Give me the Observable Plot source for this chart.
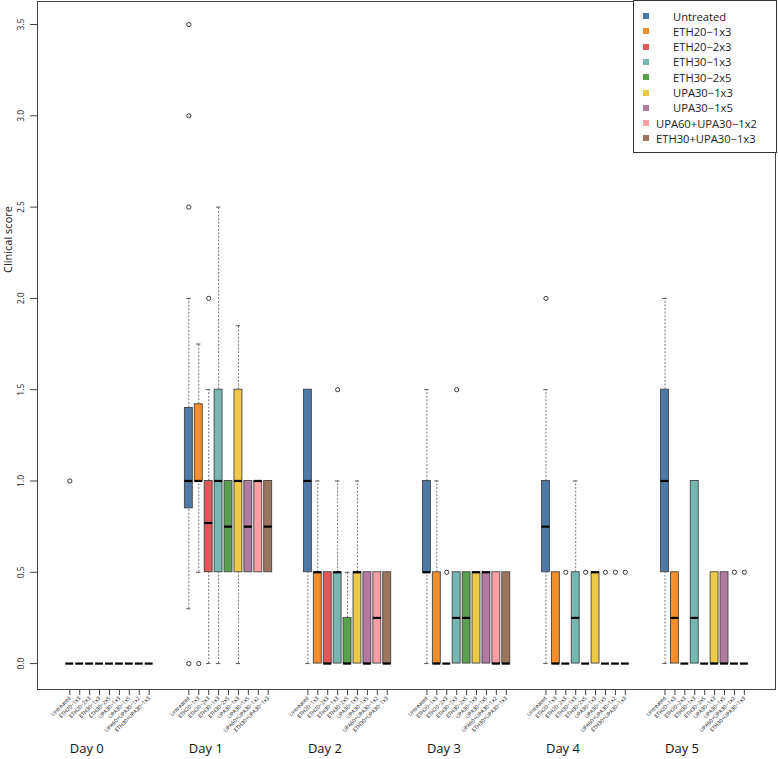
<!DOCTYPE html>
<html>
<head>
<meta charset="utf-8">
<script src="https://cdn.jsdelivr.net/npm/d3@7"></script>
<script src="https://cdn.jsdelivr.net/npm/@observablehq/plot@0.6"></script>
<style>
  body { margin: 0; background: #fff; }
  #wrap { position: relative; width: 778px; height: 759px; font-family: "Open Sans", sans-serif; }
  #legend { position: absolute; left: 633px; top: 0; width: 144px; height: 153px; border: 1px solid #333; background: #fff; box-sizing: border-box; }
  .li { position: absolute; left: 0; width: 100%; height: 13px; line-height: 13px; font-size: 11.2px; color: #222; white-space: nowrap; }
  .sw { position: absolute; left: 9px; top: 3.5px; width: 6px; height: 6px; }
  .tx { position: absolute; top: 0; line-height: 13px; white-space: nowrap; }
</style>
</head>
<body>
<div id="wrap"></div>
<script>
// ---- data ----
const groups = ["Untreated", "ETH20\u22121x3", "ETH20\u22122x3", "ETH30\u22121x3", "ETH30\u22122x5",
                "UPA30\u22121x3", "UPA30\u22121x5", "UPA60+UPA30\u22121x2", "ETH30+UPA30\u22121x3"];
const colors = ["#4E79A7", "#F28E2B", "#E15759", "#76B7B2", "#59A14F", "#EDC948", "#B07AA1", "#FF9DA7", "#9C755F"];
const days = ["Day 0", "Day 1", "Day 2", "Day 3", "Day 4", "Day 5"];
const yTicks = [0, 0.5, 1, 1.5, 2, 2.5, 3, 3.5];

// per day, per group (order of groups)
const lowWhisker = [
  [0, 0, 0, 0, 0, 0, 0, 0, 0],
  [0.3, 0.5, 0, 0, 0.5, 0, 0.5, 0.5, 0.5],
  [0, 0, 0, 0, 0, 0, 0, 0, 0],
  [0, 0, 0, 0, 0, 0, 0, 0, 0],
  [0, 0, 0, 0, 0, 0, 0, 0, 0],
  [0, 0, 0, 0, 0, 0, 0, 0, 0]
];
const q1 = [
  [0, 0, 0, 0, 0, 0, 0, 0, 0],
  [0.85, 1.0, 0.5, 0.5, 0.5, 0.5, 0.5, 0.5, 0.5],
  [0.5, 0, 0, 0, 0, 0, 0, 0, 0],
  [0.5, 0, 0, 0, 0, 0, 0, 0, 0],
  [0.5, 0, 0, 0, 0, 0, 0, 0, 0],
  [0.5, 0, 0, 0, 0, 0, 0, 0, 0]
];
const median = [
  [0, 0, 0, 0, 0, 0, 0, 0, 0],
  [1.0, 1.0, 0.77, 1.0, 0.75, 1.0, 0.75, 1.0, 0.75],
  [1.0, 0.5, 0, 0.5, 0, 0.5, 0, 0.25, 0],
  [0.5, 0, 0, 0.25, 0.25, 0.5, 0.5, 0, 0],
  [0.75, 0, 0, 0.25, 0, 0.5, 0, 0, 0],
  [1.0, 0.25, 0, 0.25, 0, 0, 0, 0, 0]
];
const q3 = [
  [0, 0, 0, 0, 0, 0, 0, 0, 0],
  [1.4, 1.42, 1.0, 1.5, 1.0, 1.5, 1.0, 1.0, 1.0],
  [1.5, 0.5, 0.5, 0.5, 0.25, 0.5, 0.5, 0.5, 0.5],
  [1.0, 0.5, 0, 0.5, 0.5, 0.5, 0.5, 0.5, 0.5],
  [1.0, 0.5, 0, 0.5, 0, 0.5, 0, 0, 0],
  [1.5, 0.5, 0, 1.0, 0, 0.5, 0.5, 0, 0]
];
const highWhisker = [
  [0, 0, 0, 0, 0, 0, 0, 0, 0],
  [2.0, 1.75, 1.5, 2.5, 1.0, 1.85, 1.0, 1.0, 1.0],
  [1.5, 1.0, 0.5, 1.0, 0.5, 1.0, 0.5, 0.5, 0.5],
  [1.5, 1.0, 0, 0.5, 0.5, 0.5, 0.5, 0.5, 0.5],
  [1.5, 0.5, 0, 1.0, 0, 0.5, 0, 0, 0],
  [2.0, 0.5, 0, 1.0, 0, 0.5, 0.5, 0, 0]
];
// outliers: day index, group index, value
const outlierDay   = [0, 1, 1, 1, 1, 1, 1, 2, 3, 3, 4, 4, 4, 4, 4, 4, 5, 5];
const outlierGroup = [0, 0, 0, 0, 0, 1, 2, 3, 2, 3, 0, 2, 4, 6, 7, 8, 7, 8];
const outlierValue = [1.0, 3.5, 3.0, 2.5, 0, 0, 2.0, 1.5, 0.5, 1.5, 2.0, 0.5, 0.5, 0.5, 0.5, 0.5, 0.5, 0.5];

// ---- build tables ----
const slotsPerDay = 12;
const rows = [];
days.forEach((d, di) => groups.forEach((g, gi) => rows.push({
  pos: di * slotsPerDay + gi, group: g,
  lo: lowWhisker[di][gi], q1: q1[di][gi], med: median[di][gi], q3: q3[di][gi], hi: highWhisker[di][gi]
})));
const outliers = outlierValue.map((v, k) => ({pos: outlierDay[k] * slotsPerDay + outlierGroup[k], value: v}));
const dayLabels = days.map((d, di) => ({pos: di * slotsPerDay, label: d}));
const tickPositions = rows.map(r => r.pos);

const half = 0.4, cap = 0.22;
const dash = {stroke: "#555", strokeWidth: 0.8, strokeDasharray: "2,1.6"};

const chart = Plot.plot({
  width: 778,
  height: 759,
  marginLeft: 37,
  marginRight: 3,
  marginTop: 1,
  marginBottom: 70,
  style: {fontFamily: '"Open Sans", sans-serif', background: "#fff", color: "#222"},
  x: {type: "linear", domain: [-3.256, 71.14], axis: null},
  y: {domain: [-0.142, 3.626], axis: null},
  color: {domain: groups, range: colors},
  marks: [
    Plot.frame({stroke: "#444", strokeWidth: 1}),
    Plot.axisY({ticks: yTicks, tickFormat: d3.format(".1f"), tickSize: 7, tickPadding: 7, tickRotate: -90,
                fontSize: 8.5, label: null, stroke: "#444", fill: "#222"}),
    Plot.axisX({ticks: tickPositions, tickFormat: p => groups[p % slotsPerDay], tickSize: 6, tickPadding: 2,
                tickRotate: -45, fontSize: 5.3, label: null, stroke: "#444", fill: "#111"}),
    // whiskers
    Plot.ruleX(rows.filter(r => r.hi > r.q3), {x: "pos", y1: "q3", y2: "hi", ...dash}),
    Plot.ruleX(rows.filter(r => r.lo < r.q1), {x: "pos", y1: "lo", y2: "q1", ...dash}),
    Plot.ruleY(rows.filter(r => r.hi > r.q3), {y: "hi", x1: r => r.pos - cap, x2: r => r.pos + cap, stroke: "#444", strokeWidth: 0.9}),
    Plot.ruleY(rows.filter(r => r.lo < r.q1), {y: "lo", x1: r => r.pos - cap, x2: r => r.pos + cap, stroke: "#444", strokeWidth: 0.9}),
    // boxes
    Plot.rect(rows.filter(r => r.q3 > r.q1), {x1: r => r.pos - half, x2: r => r.pos + half, y1: "q1", y2: "q3",
              fill: "group", stroke: "#444", strokeWidth: 0.9}),
    // medians
    Plot.ruleY(rows, {y: "med", x1: r => r.pos - half, x2: r => r.pos + half, stroke: "#000", strokeWidth: 2.2}),
    // outliers
    Plot.dot(outliers, {x: "pos", y: "value", r: 2.1, stroke: "#222", strokeWidth: 0.9, fill: "none"}),
    // day labels
    Plot.text(dayLabels, {x: "pos", text: "label", frameAnchor: "bottom", textAnchor: "start", dy: 63, fontSize: 13, fill: "#111"}),
    // y label
    Plot.text(["Clinical score"], {text: d => d, frameAnchor: "left", textAnchor: "middle", dx: -29, dy: -106, rotate: -90, fontSize: 11, fill: "#111"})
  ]
});

const wrap = document.getElementById("wrap");
wrap.appendChild(chart);

// legend overlay
const legend = document.createElement("div");
legend.id = "legend";
groups.forEach((g, i) => {
  const item = document.createElement("div");
  item.className = "li";
  item.style.top = (8.5 + i * 15.3) + "px";
  const sw = document.createElement("span");
  sw.className = "sw";
  sw.style.background = colors[i];
  const tx = document.createElement("span");
  tx.className = "tx";
  tx.style.left = (g.length > 12 ? 22 : 39) + "px";
  tx.textContent = g;
  item.appendChild(sw);
  item.appendChild(tx);
  legend.appendChild(item);
});
wrap.appendChild(legend);
</script>
</body>
</html>
